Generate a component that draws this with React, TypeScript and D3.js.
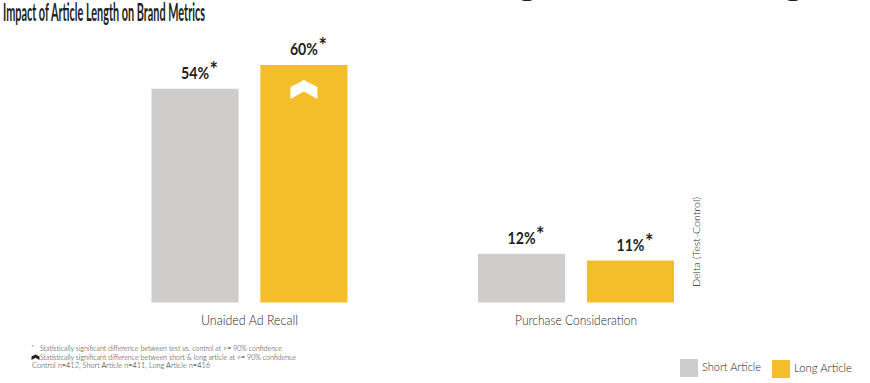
import React from "react";
import * as d3 from "d3";

const categories = ["Unaided Ad Recall", "Purchase Consideration"];
const seriesNames = ["Short Article", "Long Article"];
const shortValues = [54, 12.3];
const longValues = [60, 10.6];
const shortLabels = ["54%", "12%"];
const longLabels = ["60%", "11%"];
const longSignificant = [true, false];
const footnotes = [
  "Statistically significant difference between test vs. control at >= 90% confidence",
  "Statistically significant difference between short & long article at >= 90% confidence",
  "Control n=412, Short Article n=411, Long Article n=416",
];
const title = "Impact of Article Length on Brand Metrics";
const axisTitle = "Delta (Test-Control)";

const W = 870;
const H = 383;
const GREY = "#cfcdcb";
const YELLOW = "#f4be2a";
const TEXT = "#231f20";
const FONT = "Lato, 'Open Sans', sans-serif";

export default function App() {
  const x0 = d3.scaleBand<string>().domain(categories).range([151.5, 674]).paddingInner(0.4);
  const x1 = d3.scaleBand<string>().domain(seriesNames).range([0, x0.bandwidth()]).paddingInner(0.2);
  const y = d3.scaleLinear().domain([0, 60]).range([302.5, 65]);
  const colors = d3.scaleOrdinal<string, string>().domain(seriesNames).range([GREY, YELLOW]);

  const bars: { cat: string; s: string; v: number; label: string; sig: boolean; i: number }[] = [];
  categories.forEach((c, i) => {
    bars.push({ cat: c, s: seriesNames[0], v: shortValues[i], label: shortLabels[i], sig: false, i });
    bars.push({ cat: c, s: seriesNames[1], v: longValues[i], label: longLabels[i], sig: longSignificant[i], i });
  });

  const chevron = (cx: number, top: number, w: number, h: number) => {
    const hw = w / 2;
    const pts: [number, number][] = [
      [cx, top],
      [cx + hw, top + h * 0.37],
      [cx + hw, top + h],
      [cx, top + h * 0.6],
      [cx - hw, top + h],
      [cx - hw, top + h * 0.37],
    ];
    return d3.line()(pts)! + "Z";
  };

  React.useEffect(() => {
    document.body.style.margin = "0";
  }, []);

  return (
    <svg width={W} height={H} style={{ display: "block", background: "#fff" }} fontFamily={FONT}>
      {/* cropped heading remnants */}
      <text x={517} y={-8.5} fontFamily="'Liberation Serif', serif" fontSize={40} fill={TEXT}>g</text>
      <text x={783} y={-8.5} fontFamily="'Liberation Serif', serif" fontSize={40} fill={TEXT}>g</text>

      <text x={3} y={21} fontSize={24} fontWeight={700} fill={TEXT} textLength={202} lengthAdjust="spacingAndGlyphs">
        {title}
      </text>

      {bars.map((b, k) => {
        const bx = x0(b.cat)! + x1(b.s)!;
        const bw = x1.bandwidth();
        const by = y(b.v);
        const cx = bx + bw / 2;
        return (
          <g key={k}>
            <rect x={bx} y={by} width={bw} height={y(0) - by} fill={colors(b.s)} />
            <text x={cx - 14} y={by - 10} fontSize={17} fontWeight={700} fill={TEXT}>
              <tspan textLength={28} lengthAdjust="spacingAndGlyphs">{b.label}</tspan>
              <tspan dx={0.5} dy={-2} fontSize={20}>*</tspan>
            </text>
            {b.sig && <path d={chevron(cx, by + 15, 27, 19)} fill="#fff" />}
          </g>
        );
      })}

      {categories.map((c, i) => (
        <text key={c} x={x0(c)! + x0.bandwidth() / 2} y={325} textAnchor="middle" fontSize={14} fontWeight={300}
          fill={TEXT} textLength={i === 0 ? 97 : 122} lengthAdjust="spacingAndGlyphs">
          {c}
        </text>
      ))}

      <text transform={`translate(700,242) rotate(-90)`} textAnchor="middle" fontSize={10.5} fontWeight={300}
        fill={TEXT} textLength={90} lengthAdjust="spacingAndGlyphs">
        {axisTitle}
      </text>

      {/* footnotes */}
      <text x={31} y={351} fontSize={7} fontWeight={300} fill={TEXT}>*</text>
      <text x={40} y={351} fontSize={7} fontWeight={300} fill={TEXT} textLength={242} lengthAdjust="spacingAndGlyphs">{footnotes[0]}</text>
      <path d={chevron(35.5, 354.5, 8, 5.5)} fill={TEXT} />
      <text x={40} y={359.5} fontSize={7} fontWeight={300} fill={TEXT} textLength={256} lengthAdjust="spacingAndGlyphs">{footnotes[1]}</text>
      <text x={32} y={368} fontSize={7} fontWeight={300} fill={TEXT} textLength={178} lengthAdjust="spacingAndGlyphs">{footnotes[2]}</text>

      {/* legend */}
      {seriesNames.map((s, i) => {
        const lx = i === 0 ? 680 : 772;
        return (
          <g key={s}>
            <rect x={lx} y={359 + i} width={18} height={18} fill={colors(s)} />
            <text x={lx + 22} y={371 + i * 0.5} fontSize={11.5} fontWeight={300} fill={TEXT}
              textLength={i === 0 ? 59 : 58} lengthAdjust="spacingAndGlyphs">
              {s}
            </text>
          </g>
        );
      })}
    </svg>
  );
}
